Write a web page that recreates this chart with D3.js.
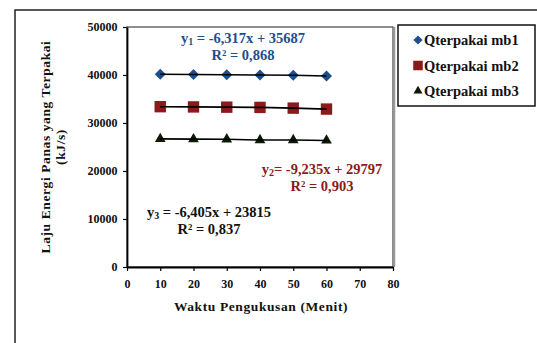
<!DOCTYPE html>
<html>
<head>
<meta charset="utf-8">
<script src="https://cdn.jsdelivr.net/npm/d3@7"></script>
<style>
  body { margin: 0; background: #fff; }
  svg { display: block; font-family: 'Liberation Serif', 'DejaVu Serif', serif; font-weight: bold; }
</style>
</head>
<body>
<div id="chart"></div>
<script>
// data
const minutes = [10, 20, 30, 40, 50, 60]
const mb1 = [40150, 40100, 40050, 40000, 39950, 39800]
const mb2 = [33400, 33350, 33300, 33250, 33100, 32900]
const mb3 = [26700, 26650, 26600, 26450, 26450, 26350]
const seriesNames = ['Qterpakai mb1', 'Qterpakai mb2', 'Qterpakai mb3']
const xTicks = [0, 10, 20, 30, 40, 50, 60, 70, 80]
const yTicks = [0, 10000, 20000, 30000, 40000, 50000]

const width = 537, height = 343
const margin = { top: 27, right: 144, bottom: 76, left: 127 }
const w = width - margin.left - margin.right
const h = height - margin.top - margin.bottom

const svg = d3.select('#chart').append('svg')
  .attr('width', width)
  .attr('height', height)

// outer chart frame (runs off the right/bottom edge)
svg.append('rect')
  .attr('x', 15).attr('y', 10)
  .attr('width', 600).attr('height', 400)
  .attr('fill', 'none')
  .attr('stroke', '#222')
  .attr('stroke-width', 1.5)

const g = svg.append('g')
  .attr('transform', `translate(${margin.left}, ${margin.top})`)

const x = d3.scaleLinear().domain([0, 80]).range([0, w])
const y = d3.scaleLinear().domain([0, 50000]).range([h, 0])

// plot area border
g.append('rect')
  .attr('width', w).attr('height', h)
  .attr('fill', 'none')
  .attr('stroke', '#444')
  .attr('stroke-width', 1.2)
g.append('line')
  .attr('x1', w + 1.5).attr('x2', w + 1.5)
  .attr('y1', 0).attr('y2', h)
  .attr('stroke', '#999').attr('stroke-width', 1.5)

// axes
const xAxis = g.append('g')
  .attr('transform', `translate(0, ${h})`)
  .call(d3.axisBottom(x).tickValues(xTicks).tickFormat(d3.format('d')).tickSize(4).tickSizeOuter(0))
const yAxis = g.append('g')
  .call(d3.axisLeft(y).tickValues(yTicks).tickFormat(d3.format('d')).tickSize(4).tickSizeOuter(0))

for (const ax of [xAxis, yAxis]) {
  ax.attr('font-family', null)
  ax.select('.domain').attr('stroke', '#000').attr('stroke-width', 1.8)
  ax.selectAll('.tick line').attr('stroke', '#000').attr('stroke-width', 1.2)
  ax.selectAll('text')
    .attr('fill', '#111')
    .attr('font-size', '12px')
    .attr('font-family', "'Liberation Serif', serif")
    .attr('font-weight', 'bold')
}
xAxis.selectAll('text').attr('dy', '1.2em')
yAxis.selectAll('text').attr('dx', '-0.2em')

// rotated square, like the Excel diamond marker
const diamond = {
  draw(ctx, size) {
    const r = Math.sqrt(size / 2)
    ctx.moveTo(0, -r); ctx.lineTo(r, 0); ctx.lineTo(0, r); ctx.lineTo(-r, 0); ctx.closePath()
  }
}

// series
const series = [
  { name: seriesNames[0], values: mb1, color: '#1f4e8c', shape: diamond, size: 60 },
  { name: seriesNames[1], values: mb2, color: '#8b1a1a', shape: d3.symbolSquare, size: 130 },
  { name: seriesNames[2], values: mb3, color: '#0d1a08', shape: d3.symbolTriangle, size: 50 }
]

const line = d3.line()
  .x((d, i) => x(minutes[i]))
  .y(d => y(d))

series.forEach(s => {
  g.append('g').selectAll('path')
    .data(s.values)
    .enter()
    .append('path')
    .attr('d', d3.symbol().type(s.shape).size(s.size))
    .attr('transform', (d, i) => `translate(${x(minutes[i])}, ${y(d)})`)
    .attr('fill', s.color)
  g.append('path')
    .datum(s.values)
    .attr('d', line)
    .attr('fill', 'none')
    .attr('stroke', '#000')
    .attr('stroke-width', 1.6)
})

// trendline equations
const eqs = [
  { lines: [['y', '1', ' = -6,317x + 35687'], ['R² = 0,868']], x: 243, y: 43, color: '#1f4e8c' },
  { lines: [['y', '2', '= -9,235x + 29797'], ['R² = 0,903']], x: 322, y: 174, color: '#8b1a1a' },
  { lines: [['y', '3', ' = -6,405x + 23815'], ['R² = 0,837']], x: 209, y: 217, color: '#111' }
]
eqs.forEach(e => {
  e.lines.forEach((ln, k) => {
    const t = svg.append('text')
      .attr('x', e.x)
      .attr('y', e.y + k * 17)
      .attr('text-anchor', 'middle')
      .attr('fill', e.color)
      .attr('font-size', '14.5px')
    if (ln.length === 3) {
      t.append('tspan').text(ln[0])
      t.append('tspan').attr('font-size', '10px').attr('dy', '2').text(ln[1])
      t.append('tspan').attr('dy', '-2').text(ln[2])
    } else {
      t.text(ln[0])
    }
  })
})

// axis titles
svg.append('text')
  .attr('x', 261).attr('y', 311)
  .attr('text-anchor', 'middle')
  .attr('font-size', '13.5px')
  .attr('letter-spacing', '0.6px')
  .attr('fill', '#111')
  .text('Waktu Pengukusan (Menit)')

const yt = svg.append('text')
  .attr('transform', 'translate(50, 147) rotate(-90)')
  .attr('text-anchor', 'middle')
  .attr('font-size', '13.5px')
  .attr('letter-spacing', '0.6px')
  .attr('fill', '#111')
yt.append('tspan').attr('x', 0).attr('y', 0).text('Laju Energi Panas yang Terpakai')
yt.append('tspan').attr('x', 0).attr('y', 15).text('(kJ/s)')

// legend
const lg = svg.append('g').attr('transform', 'translate(398, 25)')
lg.append('rect')
  .attr('width', 137).attr('height', 81)
  .attr('fill', '#fff')
  .attr('stroke', '#111')
  .attr('stroke-width', 1.5)
series.forEach((s, i) => {
  const ly = 15 + i * 25.5
  lg.append('path')
    .attr('d', d3.symbol().type(s.shape).size(s.size * 0.7))
    .attr('transform', `translate(20, ${ly})`)
    .attr('fill', s.color)
  lg.append('text')
    .attr('x', 26).attr('y', ly + 5)
    .attr('font-size', '14.5px')
    .attr('fill', '#111')
    .text(s.name)
})
</script>
</body>
</html>
